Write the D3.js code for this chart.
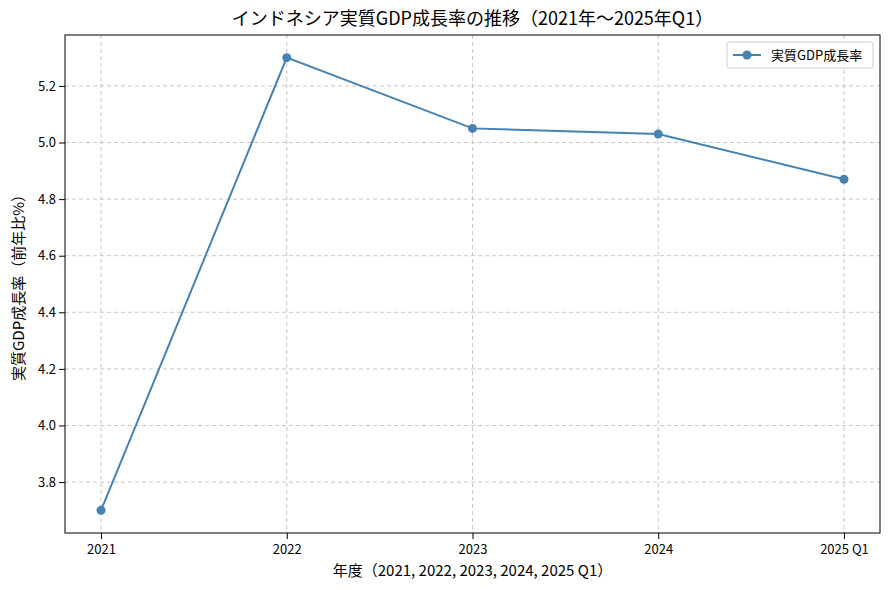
<!DOCTYPE html>
<html><head><meta charset="utf-8">
<script src="https://cdn.jsdelivr.net/npm/d3@7"></script>
<style>body{margin:0;background:#fff;font-family:"Noto Sans CJK JP","Noto Sans",sans-serif;}</style>
</head><body><div id="chart"></div>
<script>
var labels = ["2021", "2022", "2023", "2024", "2025 Q1"];
var growth = [3.70, 5.30, 5.05, 5.03, 4.87];
var yTicks = [3.8, 4.0, 4.2, 4.4, 4.6, 4.8, 5.0, 5.2];

var width = 889, height = 590;
var m = {top: 35, right: 9, bottom: 57, left: 65};
var font = '"Noto Sans CJK JP","Noto Sans",sans-serif';

var svg = d3.select("#chart").append("svg")
    .attr("width", width).attr("height", height);

var x = d3.scaleLinear().domain([-0.194, labels.length - 1 + 0.194])
    .range([m.left, width - m.right]);
var y = d3.scaleLinear().domain([3.62, 5.38])
    .range([height - m.bottom, m.top]);

// grid
var grid = svg.append("g").attr("stroke", "#c8c8c8").attr("stroke-dasharray", "4,3");
labels.forEach(function (d, i) {
  grid.append("line").attr("x1", x(i)).attr("x2", x(i))
      .attr("y1", m.top).attr("y2", height - m.bottom);
});
yTicks.forEach(function (t) {
  grid.append("line").attr("x1", m.left).attr("x2", width - m.right)
      .attr("y1", y(t)).attr("y2", y(t));
});

// axes
svg.append("g").attr("transform", "translate(0," + (height - m.bottom) + ")")
    .call(d3.axisBottom(x).tickValues(d3.range(labels.length))
      .tickFormat(function (i) { return labels[i]; }).tickSizeOuter(0))
    .attr("font-family", font)
    .call(function (g) { g.selectAll("text").attr("font-size", 13).attr("dy", "0.9em"); });
svg.append("g").attr("transform", "translate(" + m.left + ",0)")
    .call(d3.axisLeft(y).tickValues(yTicks).tickFormat(d3.format(".1f")).tickSizeOuter(0))
    .attr("font-family", font)
    .call(function (g) { g.selectAll("text").attr("font-size", 13); });
svg.selectAll(".domain").remove();
svg.append("rect").attr("x", m.left).attr("y", m.top)
    .attr("width", width - m.left - m.right).attr("height", height - m.top - m.bottom)
    .attr("fill", "none").attr("stroke", "#000");

// line
var line = d3.line().x(function (d, i) { return x(i); }).y(function (d) { return y(d); });
svg.append("path").datum(growth).attr("d", line)
    .attr("fill", "none").attr("stroke", "#4682b4").attr("stroke-width", 2);
svg.selectAll("circle.pt").data(growth).enter().append("circle")
    .attr("class", "pt").attr("cx", function (d, i) { return x(i); })
    .attr("cy", function (d) { return y(d); }).attr("r", 4.5).attr("fill", "#4682b4");

// titles
svg.append("text").attr("x", (m.left + width - m.right) / 2).attr("y", 25)
    .attr("text-anchor", "middle").attr("font-size", 18)
    .text("インドネシア実質GDP成長率の推移（2021年〜2025年Q1）");
svg.append("text").attr("x", (m.left + width - m.right) / 2).attr("y", 576)
    .attr("text-anchor", "middle").attr("font-size", 15)
    .text("年度（2021, 2022, 2023, 2024, 2025 Q1）");
svg.append("text").attr("transform", "translate(24," + ((m.top + height - m.bottom) / 2) + ") rotate(-90)")
    .attr("text-anchor", "middle").attr("font-size", 15)
    .text("実質GDP成長率（前年比%）");

// legend
var lg = svg.append("g").attr("transform", "translate(727,42)");
lg.append("rect").attr("width", 146).attr("height", 26).attr("rx", 3)
    .attr("fill", "#fff").attr("stroke", "#ccc");
lg.append("line").attr("x1", 6).attr("x2", 34).attr("y1", 13).attr("y2", 13)
    .attr("stroke", "#4682b4").attr("stroke-width", 2);
lg.append("circle").attr("cx", 20).attr("cy", 13).attr("r", 4.5).attr("fill", "#4682b4");
lg.append("text").attr("x", 44).attr("y", 18).attr("font-size", 13).text("実質GDP成長率");
</script></body></html>
